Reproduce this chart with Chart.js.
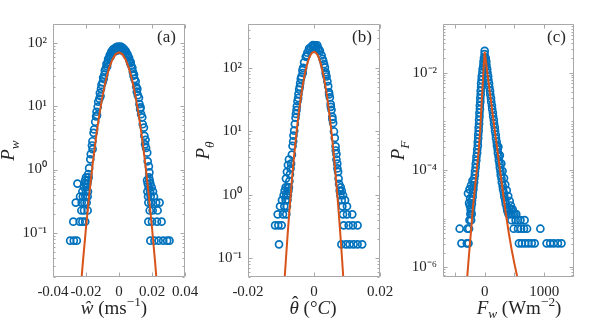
<!DOCTYPE html>
<html>
<head>
<meta charset="utf-8">
<script src="https://cdn.jsdelivr.net/npm/chart.js@4.4.1/dist/chart.umd.min.js"></script>
<style>
  html, body { margin: 0; padding: 0; background: #fff; }
  #wrap { position: relative; width: 598px; height: 319px; overflow: hidden; }
  canvas { position: absolute; top: 0; }
</style>
</head>
<body>
<div id="wrap">
  <canvas id="chart-w" width="215" height="319" style="left:0px"></canvas>
  <canvas id="chart-t" width="215" height="319" style="left:190px"></canvas>
  <canvas id="chart-f" width="213" height="319" style="left:385px"></canvas>
</div>
<script>
const BLUE = '#0072BD';
const ORANGE = '#D95319';
const SERIF = '"Liberation Serif", "Times New Roman", serif';

// (a) vertical velocity PDF
const wCoreX = [-0.0186,-0.0181,-0.0174,-0.0171,-0.0164,-0.0161,-0.0154,-0.0151,-0.0144,-0.0139,
  -0.0136,-0.0129,-0.0126,-0.0119,-0.0116,-0.0109,-0.0106,-0.0099,-0.0096,-0.0089,
  -0.0086,-0.0079,-0.0076,-0.0069,-0.0066,-0.0059,-0.0056,-0.0049,-0.0046,-0.0039,
  -0.0036,-0.0029,-0.0026,-0.0019,-0.0016,-0.0009,-0.0006,0,
  0.0004,0.0011,0.0014,0.0021,0.0024,0.0031,0.0034,0.0041,0.0044,0.0051,
  0.0054,0.0061,0.0064,0.0071,0.0074,0.0081,0.0084,0.0091,0.0094,0.0101,
  0.0104,0.0111,0.0114,0.0121,0.0124,0.0131,0.0134,0.0141,0.0144,0.0151,
  0.0154,0.0161,0.0164,0.0171,0.0174,0.0181,0.0184,
  -0.0112,-0.0093,-0.0072,-0.0052,-0.0032,-0.0012,0.0008,0.0028,0.0048,0.0068,
  0.0088,0.0108,-0.0160,0.0158,-0.0133,0.0128];
const wCoreP = [0.85,1.05,1.45,1.75,2.4,2.8,3.8,4.3,5.7,6.9,
  8.2,9.8,11.8,13.2,16.2,18.9,21.8,24.0,28.5,31.5,
  36.8,40.2,46.5,49.0,55.6,58.0,64.8,67.5,73.0,75.0,
  79.5,78.0,82.5,82.0,86.0,83.0,88.0,86.0,
  84.0,87.5,81.5,85.0,79.0,80.5,75.0,74.5,69.5,67.0,
  62.0,58.5,53.0,50.0,44.0,40.5,35.0,31.8,27.0,24.8,
  20.5,18.8,15.0,13.6,10.8,9.6,7.5,6.7,5.2,4.6,
  3.4,2.95,2.2,1.85,1.35,1.12,0.9,
  14.5,27.0,42.5,60.5,72.0,76.0,78.0,74.0,64.0,48.0,
  30.5,17.0,2.1,2.5,7.2,9.0];
const wTailX = [-0.0296,-0.0274,-0.0256, -0.0277,-0.0238,-0.0222,-0.0205, -0.0228,-0.0212,-0.0190,
  -0.0262,-0.0226,-0.0210,-0.0196, -0.0236,-0.0219,-0.0204,-0.0190, -0.0222,-0.0200,-0.0188,
  -0.0212,-0.0196, -0.0252,-0.0204,-0.0192, -0.0205,-0.0189, -0.0200,-0.0184,
  0.0190,0.0215,0.0240,0.0268,0.0292,0.0306, 0.0178,0.0200,0.0230,0.0258, 0.0186,0.0204,0.0234,
  0.0178,0.0196,0.0225,0.0246, 0.0176,0.0192,0.0212, 0.0172,0.0188,0.0206, 0.0180,0.0198,
  0.0174,0.0190, 0.0170,0.0186, 0.0182];
const wTailP = [0.075,0.075,0.075, 0.15,0.15,0.15,0.15, 0.225,0.225,0.225,
  0.3,0.3,0.3,0.3, 0.375,0.375,0.375,0.375, 0.45,0.45,0.45,
  0.525,0.525, 0.6,0.6,0.6, 0.675,0.675, 0.75,0.75,
  0.075,0.075,0.075,0.075,0.075,0.075, 0.15,0.15,0.15,0.15, 0.225,0.225,0.225,
  0.3,0.3,0.3,0.3, 0.375,0.375,0.375, 0.45,0.45,0.45, 0.525,0.525,
  0.6,0.6, 0.675,0.675, 0.75];
const wFitX = [-0.024,-0.022,-0.020,-0.018,-0.016,-0.014,-0.012,-0.010,-0.008,-0.006,-0.004,-0.002,0,
  0.002,0.004,0.006,0.008,0.010,0.012,0.014,0.016,0.018,0.020,0.022,0.024];
const wFitP = [0.0073,0.0317,0.121,0.406,1.20,3.13,7.17,14.5,25.7,40.1,55.2,66.8,71.2,
  66.8,55.2,40.1,25.7,14.5,7.17,3.13,1.20,0.406,0.121,0.0317,0.0073];
const wTicks = [-0.04, -0.02, 0, 0.02, 0.04];

// (b) temperature PDF
const tCoreX = [-0.00805,-0.0079,-0.00775,-0.0076,-0.00745,-0.0073,-0.0071,-0.00695,-0.0067,-0.0065,
  -0.00622,-0.0060,-0.0058,-0.00548,-0.0053,-0.0050,-0.0048,-0.0045,-0.0043,-0.0040,
  -0.0038,-0.0035,-0.0033,-0.0030,-0.0025,-0.0020,-0.0015,-0.0010,-0.0005,0,
  0.0003,0.0008,0.0013,0.0018,0.0023,0.0028,0.00305,0.0033,0.00355,0.0038,
  0.00405,0.0043,0.00455,0.0048,0.00505,0.0053,0.00555,0.0058,0.00605,0.0063,
  0.00655,0.0068,0.00705,0.0073,0.00745,0.0076,0.0078,0.0080,
  -0.0042,-0.0047,-0.0052,-0.0056,-0.0063,-0.0034,-0.0022,-0.0012,-0.0003,0.0006,
  0.0010,0.0016,0.0026,0.0036,0.0046,0.0051,0.0056,0.0066,-0.0085,-0.0082,
  -0.0079,-0.0076,0.0071,0.0068];
const tCoreP = [0.82,0.98,1.15,1.31,1.64,2.1,2.6,3.1,4.3,5.9,
  8.6,10.3,13.1,18.9,21.7,30.1,33.8,46.0,50.8,68.0,
  74.0,93.0,101,124,152,176,205,214,226,221,
  229,215,207,186,160,130,116,103,86,74,
  62,52,41.5,34.5,27.0,22.0,17.0,13.6,10.0,7.9,
  5.8,4.4,3.1,2.3,1.80,1.48,1.15,0.98,
  58,39.0,25.0,16.5,7.0,84,160,196,232,200,
  230,194,140,80,38.5,24.5,15.5,5.0,1.8,2.3,
  2.95,3.6,2.6,3.6];
const tTailX = [-0.0106, -0.0118,-0.0108,-0.0098, -0.0110,-0.0094,-0.0084, -0.0103,-0.0090,-0.0082,
  -0.0097,-0.0086, -0.0092,-0.0084, -0.0089, -0.0086,-0.0080,
  0.0083,0.0097,0.0108,0.0120,0.0132,0.0146, 0.0090,0.0105,0.0118,0.0132, 0.0088,0.0100,0.0116,
  0.0086,0.0100, 0.0084,0.0094, 0.0088, 0.0084, 0.0081];
const tTailP = [0.164, 0.328,0.328,0.328, 0.49,0.49,0.49, 0.656,0.656,0.656,
  0.82,0.82, 0.98,0.98, 1.15, 1.31,1.31,
  0.164,0.164,0.164,0.164,0.164,0.164, 0.328,0.328,0.328,0.328, 0.49,0.49,0.49,
  0.656,0.656, 0.82,0.82, 0.98, 1.15, 1.31];
const tFitX = [-0.0095,-0.009,-0.0085,-0.008,-0.0075,-0.007,-0.0065,-0.006,-0.0055,-0.005,
  -0.0045,-0.004,-0.0035,-0.003,-0.0025,-0.002,-0.0015,-0.001,-0.0005,0,
  0.0005,0.001,0.0015,0.002,0.0025,0.003,0.0035,0.004,0.0045,0.005,
  0.0055,0.006,0.0065,0.007,0.0075,0.008,0.0085,0.009,0.0095];
const tFitP = [0.0149,0.0391,0.0972,0.230,0.516,1.10,2.22,4.26,7.77,13.4,
  22.0,34.3,50.8,71.2,94.8,120,144,164,177.3,182,
  177.3,164,144,120,94.8,71.2,50.8,34.3,22.0,13.4,
  7.77,4.26,2.22,1.10,0.516,0.230,0.0972,0.0391,0.0149];
const tTicks = [-0.02, 0, 0.02];

// (c) heat flux PDF
const fCoreX = [0,3,-3,5,-2,
  -12,-20,-23,-35,-38,-49,-52,-60,-60,-67,-67,-74,-73,-81,-80,-88,-87,-94,-94,-101,
  -101,-109,-109,-116,-115,-125,-127,-138,-140,-150,-152,-163,-165,-175,-177,-188,-190,-200,
  -202,-213,-215,-226,-229,
  18,27,30,42,46,58,62,74,78,90,94,106,110,122,126,138,142,154,158,170,
  174,186,190,202,206,218,222,234,238,250,254,266,270,283,288,302,308,323,330,346,
  354,372,383,
  -205,-230,-255,-280,-245,-262,
  230,255,280,300,325,345,370,395,420,440,470,500];
const fCoreP = [0.028,0.0195,0.0155,0.0125,0.024,
  0.0200,0.0168,0.0141,0.0119,0.0100,0.00841,0.00708,0.00596,0.00501,0.00422,0.00355,0.00299,0.00251,0.00211,0.00178,0.00150,0.00126,0.00106,8.9e-4,7.5e-4,
  6.3e-4,5.3e-4,4.47e-4,3.76e-4,3.16e-4,2.66e-4,2.24e-4,1.88e-4,1.58e-4,1.33e-4,1.12e-4,9.4e-5,7.9e-5,6.7e-5,5.6e-5,4.7e-5,4.0e-5,3.35e-5,
  2.8e-5,2.37e-5,2.0e-5,1.68e-5,1.41e-5,
  0.0200,0.0168,0.0141,0.0119,0.0100,0.00841,0.00708,0.00596,0.00501,0.00422,0.00355,0.00299,0.00251,0.00211,0.00178,0.00150,0.00126,0.00106,8.9e-4,7.5e-4,
  6.3e-4,5.3e-4,4.47e-4,3.76e-4,3.16e-4,2.66e-4,2.24e-4,1.88e-4,1.58e-4,1.33e-4,1.12e-4,9.4e-5,7.9e-5,6.7e-5,5.6e-5,4.7e-5,4.0e-5,3.35e-5,2.8e-5,2.37e-5,
  2.0e-5,1.68e-5,1.41e-5,
  6.0e-5,4.8e-5,4.0e-5,3.3e-5,2.6e-5,2.1e-5,
  3.0e-4,2.0e-4,1.35e-4,9.5e-5,6.8e-5,5.0e-5,3.8e-5,2.9e-5,2.3e-5,1.86e-5,1.55e-5,1.24e-5];
const fTailX = [-390,-300,-272,-420,-290,-262,-228,-255,-218,-240,-236,-250,
  380,415,450, 400,440,470,530, 450,520,560,600,670, 487,560,611,660,711,935,
  575,625,680,735,790,840,1040,1100,1160,1230,1290];
const fTailP = [3.1e-6,3.1e-6,3.1e-6,6.2e-6,6.2e-6,6.2e-6,9.3e-6,9.3e-6,1.24e-5,1.24e-5,1.55e-5,1.86e-5,
  1.55e-5,1.55e-5,1.55e-5, 1.24e-5,1.24e-5,1.24e-5,1.24e-5, 9.3e-6,9.3e-6,9.3e-6,9.3e-6,9.3e-6,
  6.2e-6,6.2e-6,6.2e-6,6.2e-6,6.2e-6,6.2e-6,
  3.1e-6,3.1e-6,3.1e-6,3.1e-6,3.1e-6,3.1e-6,3.1e-6,3.1e-6,3.1e-6,3.1e-6,3.1e-6];
const fFitX = [-300,-275,-250,-225,-200,-175,-150,-125,-100,-75,-50,-25,0,
  50,100,150,200,250,300,350,400,450,500,560];
const fFitP = [5.0e-7,1.2e-6,2.82e-6,6.31e-6,1.58e-5,3.16e-5,6.31e-5,1.26e-4,2.51e-4,7.08e-4,2.51e-3,8.91e-3,0.0269,
  8.91e-3,2.95e-3,1.0e-3,3.39e-4,1.175e-4,3.98e-5,1.41e-5,5.5e-6,2.4e-6,1.175e-6,5.37e-7];
const fTicks = [0, 1000];
const fTickMarks = [-500, 0, 500, 1000];

Chart.defaults.font.family = SERIF;
Chart.defaults.color = '#262626';

function toPoints(xs, ys) {
  return xs.map(function (x, i) { return { x: x, y: ys[i] }; });
}

function powLabel(v) {
  var sup = { '-': '\u207B', '0': '\u2070', '1': '\u00B9', '2': '\u00B2', '3': '\u00B3', '4': '\u2074', '5': '\u2075', '6': '\u2076' };
  var e = String(Math.round(Math.log10(v)));
  return '10' + e.split('').map(function (c) { return sup[c]; }).join('');
}

function minorTicks(min, max, majors) {
  var out = [];
  for (var n = Math.floor(Math.log10(min)); n <= Math.ceil(Math.log10(max)); n++) {
    for (var k = 1; k <= 9; k++) {
      var v = k * Math.pow(10, n);
      var isMajor = majors.some(function (m) { return Math.abs(m - v) < m * 1e-6; });
      if (v >= min * 0.999 && v <= max * 1.001 && !isMajor) out.push(v);
    }
  }
  return out;
}

// draw a label made of pieces (italic, sub, sup), centred or left aligned
function drawMath(ctx, parts, size, x, y, align, rotate) {
  var segs = parts.map(function (p) {
    var s = (p.sub || p.sup) ? size * 0.7 : size;
    var font = (p.it ? 'italic ' : '') + s + 'px ' + SERIF;
    ctx.font = font;
    return { p: p, font: font, s: s, w: ctx.measureText(p.t).width + (p.gap || 0),
      dy: p.sub ? size * 0.24 : (p.sup ? -size * 0.42 : 0) };
  });
  var total = segs.reduce(function (acc, g) { return acc + g.w; }, 0);
  ctx.save();
  ctx.translate(x, y);
  if (rotate) ctx.rotate(-Math.PI / 2);
  ctx.fillStyle = '#262626';
  ctx.textBaseline = 'alphabetic';
  var cx = align === 'left' ? 0 : -total / 2;
  segs.forEach(function (g) {
    ctx.font = g.font;
    ctx.textAlign = 'left';
    ctx.fillText(g.p.t, cx, g.dy);
    if (g.p.hat) {
      ctx.font = g.s + 'px ' + SERIF;
      ctx.textAlign = 'center';
      ctx.fillText('\u02C6', cx + g.w / 2 + 1, g.dy - size * 0.22);
    }
    cx += g.w;
  });
  ctx.restore();
}

function framePlugin(cfg) {
  return {
    id: 'frame',
    afterDatasetsDraw: function (chart) {
      var ctx = chart.ctx, a = chart.chartArea;
      var sx = chart.scales.x, sy = chart.scales.y;
      var L = Math.round(a.left) + 0.5, R = Math.round(a.right) - 0.5;
      var T = Math.round(a.top) + 0.5, B = Math.round(a.bottom) - 0.5;
      ctx.save();
      ctx.strokeStyle = '#a8a8a8';
      ctx.lineWidth = 1;
      ctx.beginPath();
      ctx.rect(L, T, R - L, B - T);
      cfg.xMarks.forEach(function (v) {
        var p = Math.round(sx.getPixelForValue(v)) + 0.5;
        ctx.moveTo(p, B); ctx.lineTo(p, B - 4);
        ctx.moveTo(p, T); ctx.lineTo(p, T + 4);
      });
      function yTick(v, len) {
        var p = Math.round(sy.getPixelForValue(v)) + 0.5;
        ctx.moveTo(L, p); ctx.lineTo(L + len, p);
        ctx.moveTo(R, p); ctx.lineTo(R - len, p);
      }
      cfg.yLabels.forEach(function (v) { yTick(v, 4); });
      minorTicks(cfg.yMin, cfg.yMax, cfg.yLabels).forEach(function (v) { yTick(v, 2); });
      ctx.stroke();
      ctx.restore();
    }
  };
}

function textPlugin(cfg) {
  return {
    id: 'mathText',
    afterDraw: function (chart) {
      var ctx = chart.ctx, a = chart.chartArea;
      drawMath(ctx, cfg.yTitle, 19, a.left - 39, (a.top + a.bottom) / 2, 'center', true);
      drawMath(ctx, cfg.xTitle, 19, a.left + cfg.xTitleAt, 313.5, 'center', false);
      drawMath(ctx, [{ t: cfg.panel }], 17, a.left + 104, 42, 'left', false);
    }
  };
}

function makePanel(id, cfg) {
  new Chart(document.getElementById(id), {
    type: 'scatter',
    data: {
      datasets: [{
        data: toPoints(cfg.fitX, cfg.fitP),
        showLine: true,
        borderColor: ORANGE,
        borderWidth: 2,
        pointRadius: 0,
        tension: 0,
        clip: 0,
        order: 0
      }, {
        data: toPoints(cfg.x, cfg.p),
        pointRadius: 3.5,
        pointBorderWidth: 1.7,
        pointBorderColor: BLUE,
        pointBackgroundColor: 'rgba(255,255,255,0)',
        order: 1
      }]
    },
    options: {
      responsive: false,
      animation: false,
      devicePixelRatio: 1,
      layout: { padding: { left: cfg.padLeft, right: cfg.padRight, top: 24, bottom: 0 } },
      plugins: { legend: { display: false }, tooltip: { enabled: false } },
      scales: {
        x: {
          type: 'linear',
          min: cfg.xMin,
          max: cfg.xMax,
          grid: { display: false, drawTicks: false },
          border: { display: false },
          ticks: {
            font: { family: SERIF, size: 15 }, color: '#262626', padding: 6,
            autoSkip: false, maxRotation: 0, minRotation: 0,
            callback: function (v) { return String(v); }
          },
          afterBuildTicks: function (s) { s.ticks = cfg.xTicks.map(function (v) { return { value: v }; }); },
          afterFit: function (s) { s.height = 42; }
        },
        y: {
          type: 'logarithmic',
          min: cfg.yMin,
          max: cfg.yMax,
          grid: { display: false, drawTicks: false },
          border: { display: false },
          ticks: {
            font: { family: SERIF, size: 15 }, color: '#262626', padding: 6, autoSkip: false,
            callback: function (v) { return powLabel(v); }
          },
          afterBuildTicks: function (s) { s.ticks = cfg.yLabels.map(function (v) { return { value: v }; }); },
          afterFit: function (s) { s.width = 53; }
        }
      }
    },
    plugins: [framePlugin(cfg), textPlugin(cfg)]
  });
}

makePanel('chart-w', {
  x: wCoreX.concat(wTailX), p: wCoreP.concat(wTailP), fitX: wFitX, fitP: wFitP,
  xMin: -0.04, xMax: 0.04, xTicks: wTicks, xMarks: wTicks,
  yMin: 0.02, yMax: 200, yLabels: [0.1, 1, 10, 100],
  padLeft: 0, padRight: 30,
  yTitle: [{ t: 'P', it: true }, { t: 'w', it: true, sub: true }],
  xTitle: [{ t: '\u0175', it: true }, { t: ' (' }, { t: 'ms' }, { t: '\u22121', sup: true }, { t: ')' }],
  xTitleAt: 61, panel: '(a)'
});

makePanel('chart-t', {
  x: tCoreX.concat(tTailX), p: tCoreP.concat(tTailP), fitX: tFitX, fitP: tFitP,
  xMin: -0.02, xMax: 0.02, xTicks: tTicks, xMarks: tTicks,
  yMin: 0.05, yMax: 500, yLabels: [0.1, 1, 10, 100],
  padLeft: 5, padRight: 25,
  yTitle: [{ t: 'P', it: true }, { t: '\u03B8', it: true, sub: true }],
  xTitle: [{ t: '\u03B8', it: true, hat: true }, { t: ' (' }, { t: '\u00B0' }, { t: 'C', it: true }, { t: ')' }],
  xTitleAt: 65, panel: '(b)'
});

makePanel('chart-f', {
  x: fCoreX.concat(fTailX), p: fCoreP.concat(fTailP), fitX: fFitX, fitP: fFitP,
  xMin: -700, xMax: 1500, xTicks: fTicks, xMarks: fTickMarks,
  yMin: 6.31e-7, yMax: 0.1, yLabels: [1e-6, 1e-4, 1e-2],
  padLeft: 5, padRight: 24,
  yTitle: [{ t: 'P', it: true }, { t: 'F', it: true, sub: true }],
  xTitle: [{ t: 'F', it: true }, { t: 'w', it: true, sub: true }, { t: ' (' }, { t: 'Wm' }, { t: '\u22122', sup: true }, { t: ')' }],
  xTitleAt: 76, panel: '(c)'
});
</script>
</body>
</html>
